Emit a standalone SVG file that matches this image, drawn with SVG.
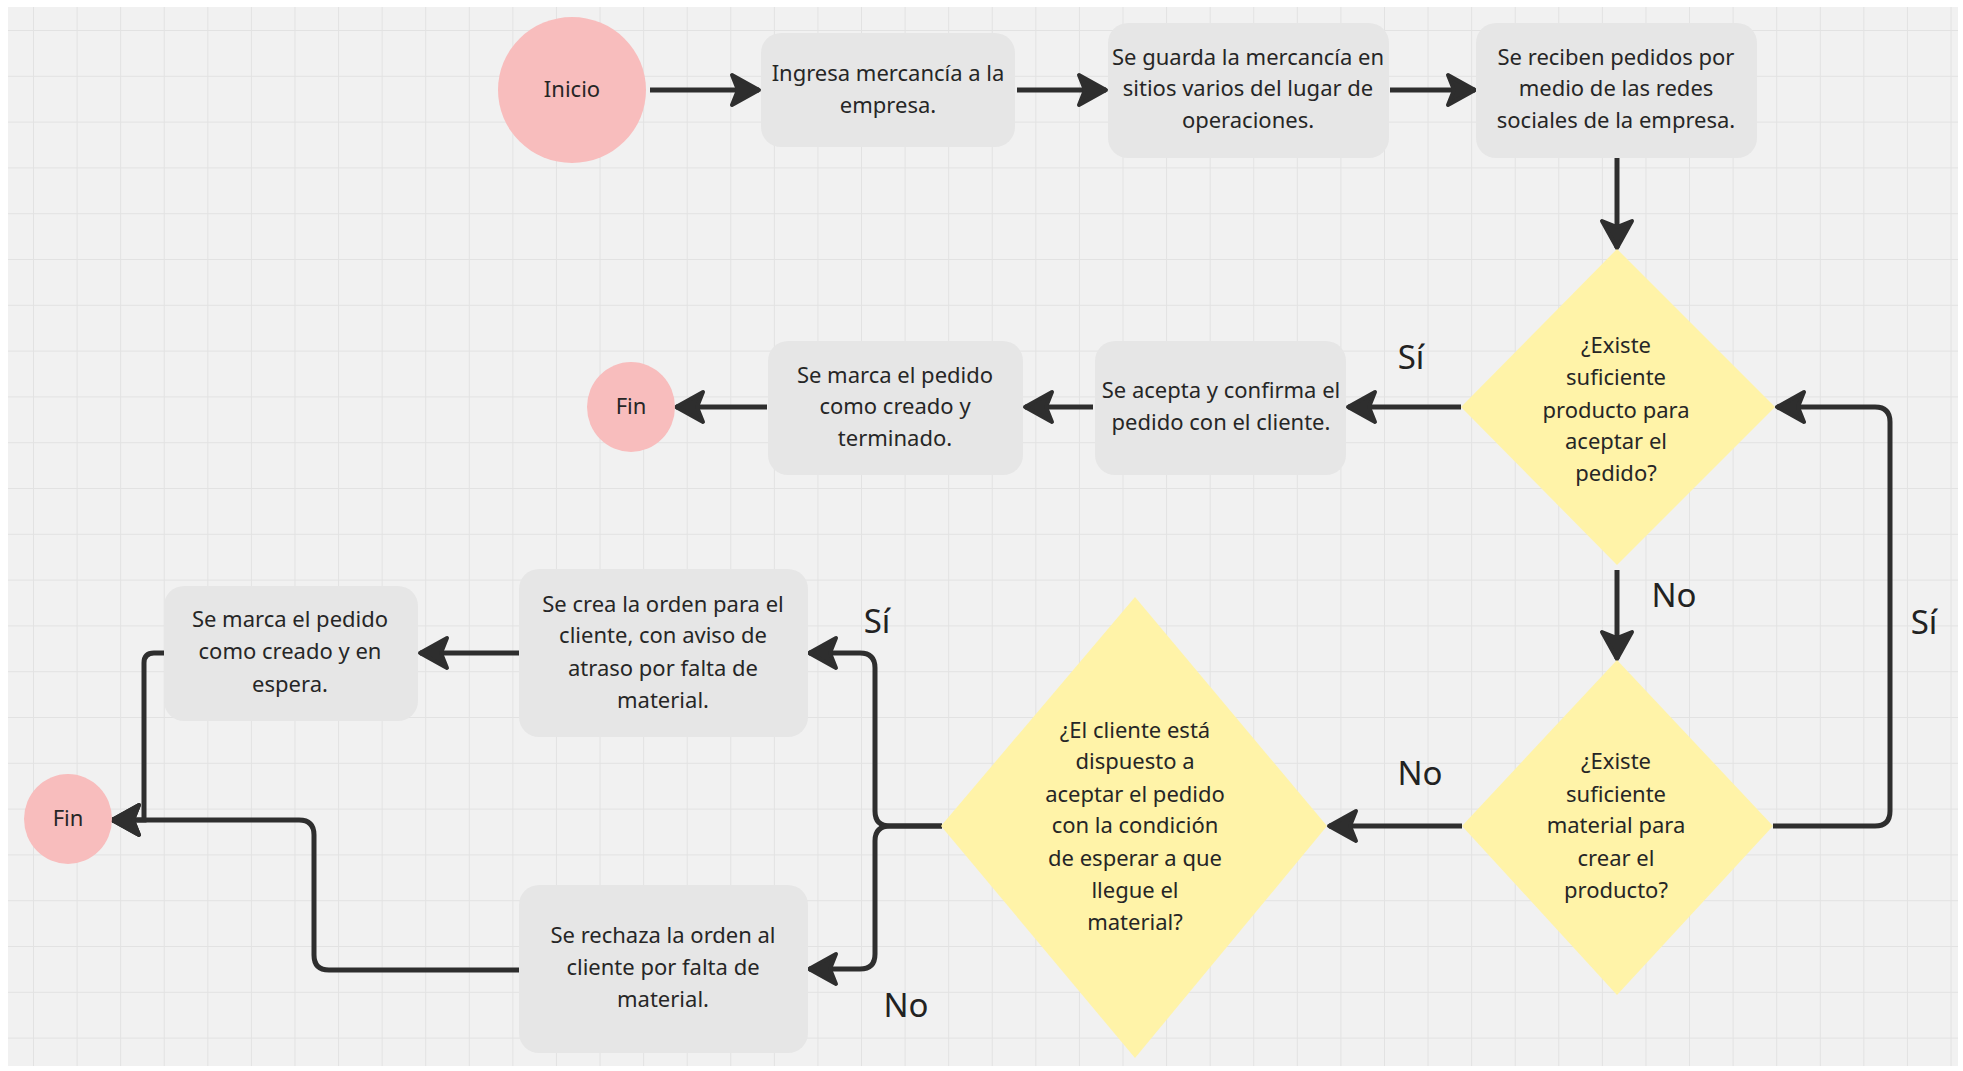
<svg xmlns="http://www.w3.org/2000/svg" width="1963" height="1071" viewBox="0 0 1963 1071">
<defs>
<pattern id="grid" patternUnits="userSpaceOnUse" x="33" y="30" width="43.58" height="45.8">
<path d="M0,0 V45.8 M0,0 H43.58" fill="none" stroke="#e2e2e2" stroke-width="2"/>
</pattern>
<marker id="ah" markerUnits="userSpaceOnUse" markerWidth="34" markerHeight="36" refX="30" refY="18" orient="auto" viewBox="0 0 34 36">
<path d="M3,3 L30,18 L3,33 L9,18 Z" fill="#2e2e2e" stroke="#2e2e2e" stroke-width="4" stroke-linejoin="round"/>
</marker>
<style>
.bg{fill:#f1f1f1}
.box{fill:#e6e6e6}
.dia{fill:#fff3a8}
.cir{fill:#f8bdbd}
.t{font-family:"Noto Sans","Open Sans",sans-serif;font-size:22px;fill:#262626;text-anchor:middle}
.lbl{font-family:"Noto Sans","Open Sans",sans-serif;font-size:33px;fill:#222;text-anchor:middle}
.c{fill:none;stroke:#2e2e2e;stroke-width:5;marker-end:url(#ah)}
</style>
</defs>
<rect width="1963" height="1071" fill="#ffffff"/>
<rect class="bg" x="8" y="7" width="1950" height="1059"/>
<rect x="8" y="7" width="1950" height="1059" fill="url(#grid)"/>

<g id="connectors">
<path class="c" d="M650,90 L759,90"/>
<path class="c" d="M1017,90 L1106,90"/>
<path class="c" d="M1390,90 L1475,90"/>
<path class="c" d="M1617,158 L1617,248"/>
<path class="c" d="M1461,407 L1348,407"/>
<path class="c" d="M1093,407 L1025,407"/>
<path class="c" d="M767,407 L676,407"/>
<path class="c" d="M1617,570 L1617,659"/>
<path class="c" d="M1773,826 H1875 Q1890,826 1890,811 V422 Q1890,407 1875,407 H1777"/>
<path class="c" d="M1462,826 L1329,826"/>
<path class="c" d="M942,826 H890 Q875,826 875,811 V668 Q875,653 860,653 H809"/>
<path class="c" d="M942,826 H890 Q875,826 875,841 V954 Q875,969 860,969 H809"/>
<path class="c" d="M519,653 L420,653"/>
<path class="c" d="M164,653 H154 Q144,653 144,663 V820 L112,820"/>
<path class="c" d="M519,970 H329 Q314,970 314,955 V835 Q314,820 299,820 H112"/>
<text class="lbl" x="1411" y="369">Sí</text>
<text class="lbl" x="1674" y="607">No</text>
<text class="lbl" x="1924" y="634">Sí</text>
<text class="lbl" x="1420" y="785">No</text>
<text class="lbl" x="877" y="633">Sí</text>
<text class="lbl" x="906" y="1017">No</text>
</g>

<g id="inicio">
<ellipse class="cir" cx="572" cy="90" rx="74" ry="73"/>
<text class="t" x="572" y="97">Inicio</text>
</g>
<g id="ingresa">
<rect class="box" x="761" y="33" width="254" height="114" rx="20"/>
<text class="t" x="888" y="81">Ingresa mercancía a la</text>
<text class="t" x="888" y="113">empresa.</text>
</g>
<g id="guarda">
<rect class="box" x="1108" y="23" width="281" height="135" rx="20"/>
<text class="t" x="1248" y="65">Se guarda la mercancía en</text>
<text class="t" x="1248" y="96">sitios varios del lugar de</text>
<text class="t" x="1248" y="128">operaciones.</text>
</g>
<g id="reciben">
<rect class="box" x="1476" y="23" width="281" height="135" rx="20"/>
<text class="t" x="1616" y="65">Se reciben pedidos por</text>
<text class="t" x="1616" y="96">medio de las redes</text>
<text class="t" x="1616" y="128">sociales de la empresa.</text>
</g>
<g id="decision-producto">
<polygon class="dia" points="1617,249 1775,407 1617,565 1461,407"/>
<text class="t" x="1616" y="353">¿Existe</text>
<text class="t" x="1616" y="385">suficiente</text>
<text class="t" x="1616" y="418">producto para</text>
<text class="t" x="1616" y="449">aceptar el</text>
<text class="t" x="1616" y="481">pedido?</text>
</g>
<g id="acepta">
<rect class="box" x="1095" y="341" width="251" height="134" rx="20"/>
<text class="t" x="1221" y="398">Se acepta y confirma el</text>
<text class="t" x="1221" y="430">pedido con el cliente.</text>
</g>
<g id="terminado">
<rect class="box" x="768" y="341" width="255" height="134" rx="20"/>
<text class="t" x="895" y="383">Se marca el pedido</text>
<text class="t" x="895" y="414">como creado y</text>
<text class="t" x="895" y="446">terminado.</text>
</g>
<g id="fin1">
<ellipse class="cir" cx="631" cy="407" rx="44" ry="45"/>
<text class="t" x="631" y="414">Fin</text>
</g>
<g id="decision-material">
<polygon class="dia" points="1617,660 1773,826 1617,995 1462,826"/>
<text class="t" x="1616" y="769">¿Existe</text>
<text class="t" x="1616" y="802">suficiente</text>
<text class="t" x="1616" y="833">material para</text>
<text class="t" x="1616" y="866">crear el</text>
<text class="t" x="1616" y="898">producto?</text>
</g>
<g id="decision-cliente">
<polygon class="dia" points="1135,597 1327,826 1135,1058 941,826"/>
<text class="t" x="1135" y="738">¿El cliente está</text>
<text class="t" x="1135" y="769">dispuesto a</text>
<text class="t" x="1135" y="802">aceptar el pedido</text>
<text class="t" x="1135" y="833">con la condición</text>
<text class="t" x="1135" y="866">de esperar a que</text>
<text class="t" x="1135" y="898">llegue el</text>
<text class="t" x="1135" y="930">material?</text>
</g>
<g id="crea-orden">
<rect class="box" x="519" y="569" width="289" height="168" rx="20"/>
<text class="t" x="663" y="612">Se crea la orden para el</text>
<text class="t" x="663" y="643">cliente, con aviso de</text>
<text class="t" x="663" y="676">atraso por falta de</text>
<text class="t" x="663" y="708">material.</text>
</g>
<g id="espera">
<rect class="box" x="164" y="586" width="254" height="135" rx="20"/>
<text class="t" x="290" y="627">Se marca el pedido</text>
<text class="t" x="290" y="659">como creado y en</text>
<text class="t" x="290" y="692">espera.</text>
</g>
<g id="rechaza">
<rect class="box" x="519" y="885" width="289" height="168" rx="20"/>
<text class="t" x="663" y="943">Se rechaza la orden al</text>
<text class="t" x="663" y="975">cliente por falta de</text>
<text class="t" x="663" y="1007">material.</text>
</g>
<g id="fin2">
<ellipse class="cir" cx="68" cy="819" rx="44" ry="45"/>
<text class="t" x="68" y="826">Fin</text>
</g>
</svg>
